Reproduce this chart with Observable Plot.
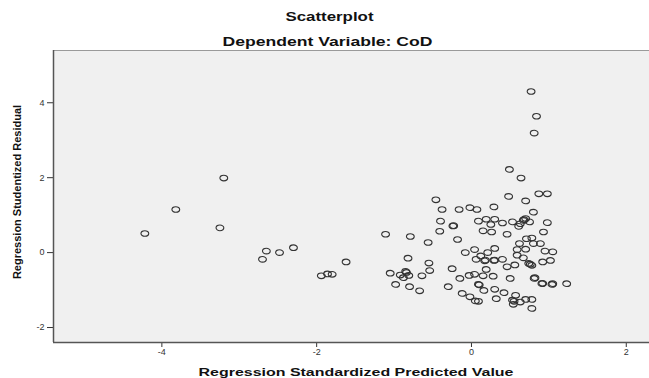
<!DOCTYPE html>
<html><head><meta charset="utf-8">
<script src="https://cdn.jsdelivr.net/npm/d3@7"></script>
<script src="https://cdn.jsdelivr.net/npm/@observablehq/plot@0.6"></script>
<style>body{margin:0;background:#fff;}</style>
</head><body><div id="chart"></div>
<script>
const title = "Scatterplot";
const subtitle = "Dependent Variable: CoD";
const xLabel = "Regression Standardized Predicted Value";
const yLabel = "Regression Studentized Residual";
const xTicks = [-4, -2, 0, 2];
const yTicks = [-2, 0, 2, 4];
const xDomain = [-5.40, 2.30];
const yDomain = [-2.40, 5.395];

const predicted = [
  -4.22, -3.82, -3.20, -3.25, -2.65, -2.70, -2.48, -2.30, -1.94, -1.86, -1.80, -1.62,
  0.77, 0.84, 0.81, 0.49, 0.64, 0.87, 0.98,
  -0.46, 0.48, 0.70, -0.38, -0.16, -0.02, 0.07, 0.29, 0.80,
  -0.40, -0.24, 0.09, 0.19, 0.30, 0.25, 0.40, 0.53, 0.63, 0.67, 0.70, 0.75, 0.98,
  -1.11, -0.79, -0.56, -0.41, -0.18, 0.15, 0.26, 0.46, 0.93, 0.61, 0.62, 0.71, 0.78, 0.80, 0.89,
  -0.08, 0.04, 0.21, 0.30, 0.12, 0.06, 0.17, 0.29, 0.40, 0.59, 0.70, 0.59, 0.67, 0.95, 1.05, 1.02, 0.92, 0.74, 0.78, 0.46, 0.56,
  -0.82, -0.55, -0.54, -1.05, -0.92, -0.85, -0.88, -0.81, -0.64, -0.25, -0.03, 0.04, 0.15, 0.19, 0.28, -0.15, 0.50, 0.81,
  0.91, 1.04, 1.23, -0.98, -0.80, -0.67, -0.30, 0.09, 0.16, 0.30, 0.42, 0.57, -0.12, -0.02, 0.05, 0.09, 0.32, 0.53, 0.54, 0.63, 0.70, 0.78, 0.78,
  -0.23, 0.10, 0.55, -0.84, 0.92, 0.18, 0.30, 0.68, 0.76, 0.82, 1.05
];
const residual = [
  0.51, 1.15, 1.99, 0.66, 0.04, -0.18, 0.00, 0.13, -0.62, -0.57, -0.58, -0.25,
  4.30, 3.64, 3.19, 2.22, 1.99, 1.57, 1.57,
  1.41, 1.50, 1.38, 1.15, 1.15, 1.20, 1.15, 1.22, 1.08,
  0.84, 0.71, 0.84, 0.89, 0.89, 0.75, 0.79, 0.82, 0.77, 0.86, 0.91, 0.82, 0.80,
  0.49, 0.43, 0.27, 0.57, 0.35, 0.58, 0.55, 0.49, 0.55, 0.70, 0.24, 0.37, 0.39, 0.24, 0.24,
  0.00, 0.08, 0.00, 0.11, -0.09, -0.18, -0.22, -0.21, -0.18, 0.08, 0.09, -0.07, -0.14, 0.04, 0.02, -0.21, -0.25, -0.29, -0.34, -0.38, -0.33,
  -0.15, -0.28, -0.48, -0.55, -0.60, -0.50, -0.67, -0.61, -0.62, -0.43, -0.61, -0.58, -0.62, -0.45, -0.63, -0.69, -0.69, -0.69,
  -0.83, -0.85, -0.83, -0.85, -0.91, -1.02, -0.91, -0.85, -1.01, -0.98, -1.07, -1.14, -1.09, -1.18, -1.29, -1.30, -1.23, -1.27, -1.38, -1.32, -1.25, -1.25, -1.49,
  0.72, -0.86, -1.30, -0.53, -0.82, -0.20, -0.20, 0.88, -0.31, -0.67, -0.83
];

const points = predicted.map((x, i) => ({x, y: residual[i]}));

// the reference picture is stretched horizontally, so its circles are slightly wide ellipses
const wideCircle = {
  draw(context, size) {
    const r = Math.sqrt(size / Math.PI);
    const rx = r * 1.18, ry = r * 0.85, k = 0.5523;
    context.moveTo(rx, 0);
    context.bezierCurveTo(rx, ry * k, rx * k, ry, 0, ry);
    context.bezierCurveTo(-rx * k, ry, -rx, ry * k, -rx, 0);
    context.bezierCurveTo(-rx, -ry * k, -rx * k, -ry, 0, -ry);
    context.bezierCurveTo(rx * k, -ry, rx, -ry * k, rx, 0);
    context.closePath();
  }
};

const plot = Plot.plot({
  width: 649,
  height: 378,
  marginTop: 50,
  marginBottom: 36,
  marginLeft: 53,
  marginRight: 0,
  style: {background: "#fff", fontFamily: "'Liberation Sans', Arial, sans-serif", fontSize: "9px", overflow: "visible"},
  x: {domain: xDomain},
  y: {domain: yDomain},
  marks: [
    Plot.frame({fill: "#f0f0f0", stroke: null}),
    Plot.ruleY([yDomain[1]], {stroke: "#9a9a9a", strokeWidth: 1}),
    Plot.axisX({ticks: xTicks, tickSize: 5, tickPadding: 1, label: null, color: "#333", tickFormat: d => String(d), fontSize: 9}),
    Plot.axisY({ticks: yTicks, tickSize: 6, tickPadding: 3, label: null, color: "#333", tickFormat: d => String(d), fontSize: 9}),
    Plot.ruleY([yDomain[0]], {stroke: "#555", strokeWidth: 1.5}),
    Plot.ruleX([xDomain[0]], {stroke: "#555", strokeWidth: 1.5}),
    Plot.dot(points, {x: "x", y: "y", r: 3.3, symbol: wideCircle, stroke: "#333", strokeWidth: 1.1, fill: "none"}),
    Plot.text([title], {text: d => d, frameAnchor: "top", dx: -22, dy: -33, lineAnchor: "middle", fontWeight: "bold", fontSize: 12, fill: "#111"}),
    Plot.text([subtitle], {text: d => d, frameAnchor: "top", dx: -24, dy: -9, lineAnchor: "middle", fontWeight: "bold", fontSize: 13.5, fill: "#111"}),
    Plot.text([xLabel], {text: d => d, frameAnchor: "bottom", dx: 4.5, dy: 29.7, lineAnchor: "middle", fontWeight: "bold", fontSize: 11, fill: "#111"}),
    Plot.text([yLabel], {text: d => d, frameAnchor: "left", textAnchor: "middle", rotate: -90, dx: -36.5, dy: -4.5, lineAnchor: "middle", fontWeight: "bold", fontSize: 11, fill: "#111"})
  ]
});

const widths = new Map([[title, 88], [subtitle, 210], [xLabel, 315]]);
d3.select(plot).selectAll("text").each(function() {
  const w = widths.get(this.textContent);
  if (w) d3.select(this).attr("textLength", w).attr("lengthAdjust", "spacingAndGlyphs");
});

document.getElementById("chart").append(plot);
</script>
</body></html>
